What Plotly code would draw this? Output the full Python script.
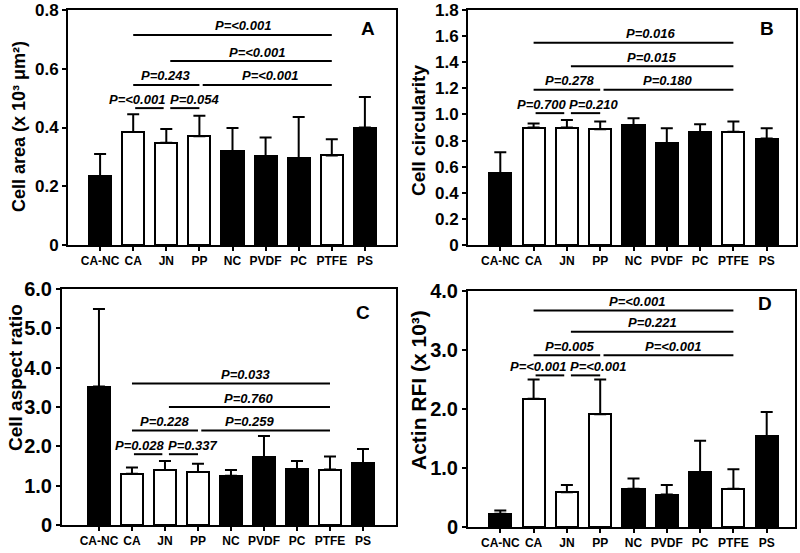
import plotly.graph_objects as go

categories = ["CA-NC", "CA", "JN", "PP", "NC", "PVDF", "PC", "PTFE", "PS"]
open_bar = [False, True, True, True, False, False, False, True, False]

area_mean = [0.235, 0.385, 0.348, 0.370, 0.320, 0.303, 0.295, 0.305, 0.400]
area_sd = [0.075, 0.060, 0.047, 0.070, 0.078, 0.063, 0.141, 0.055, 0.104]

circ_mean = [0.550, 0.900, 0.900, 0.887, 0.920, 0.778, 0.862, 0.867, 0.815]
circ_sd = [0.160, 0.030, 0.058, 0.059, 0.051, 0.117, 0.063, 0.079, 0.080]

aspect_mean = [3.52, 1.30, 1.40, 1.35, 1.25, 1.72, 1.42, 1.41, 1.57]
aspect_sd = [1.97, 0.16, 0.23, 0.21, 0.15, 0.54, 0.21, 0.33, 0.36]

actin_mean = [0.226, 2.175, 0.590, 1.910, 0.650, 0.550, 0.930, 0.650, 1.540]
actin_sd = [0.054, 0.325, 0.120, 0.590, 0.170, 0.160, 0.530, 0.330, 0.410]

# comparisons, same pairs in every panel
pairs = [("CA", "PTFE"), ("JN", "PTFE"), ("CA", "PP"), ("PP", "PTFE"), ("CA", "JN"), ("JN", "PP")]
area_p = ["P=<0.001", "P=<0.001", "P=0.243", "P=<0.001", "P=<0.001", "P=0.054"]
circ_p = ["P=0.016", "P=0.015", "P=0.278", "P=0.180", "P=0.700", "P=0.210"]
aspect_p = ["P=0.033", "P=0.760", "P=0.228", "P=0.259", "P=0.028", "P=0.337"]
actin_p = ["P=<0.001", "P=0.221", "P=0.005", "P=<0.001", "P=<0.001", "P=<0.001"]
area_lvl = [0.715, 0.626, 0.545, 0.545, 0.466, 0.466]
circ_lvl = [1.55, 1.37, 1.19, 1.19, 1.01, 1.01]
aspect_lvl = [3.6, 3.0, 2.4, 2.4, 1.8, 1.8]
actin_lvl = [3.67, 3.31, 2.91, 2.91, 2.57, 2.57]

area_ticks = [0, 0.2, 0.4, 0.6, 0.8]
area_ticktext = ["0", "0.2", "0.4", "0.6", "0.8"]
circ_ticks = [0, 0.2, 0.4, 0.6, 0.8, 1.0, 1.2, 1.4, 1.6, 1.8]
circ_ticktext = ["0", "0.2", "0.4", "0.6", "0.8", "1.0", "1.2", "1.4", "1.6", "1.8"]
aspect_ticks = [0, 1, 2, 3, 4, 5, 6]
aspect_ticktext = ["0", "1.0", "2.0", "3.0", "4.0", "5.0", "6.0"]
actin_ticks = [0, 1, 2, 3, 4]
actin_ticktext = ["0", "1.0", "2.0", "3.0", "4.0"]

FONT = "Liberation Sans, Arial, sans-serif"
W, H = 800, 553

# per panel style: pixel box (left, right, top, bottom), x range, tick font, title
panels = [
    dict(mean=area_mean, sd=area_sd, p=area_p, lvl=area_lvl, ymax=0.8,
         ticks=area_ticks, ticktext=area_ticktext,
         box=(68, 396, 10, 245), xr=[-0.97, 8.94], tick_size=17,
         title="Cell area (x 10\u00b3 \u03bcm\u00b2)", title_size=18,
         title_xy=(19, 127), letter="A", letter_xy=(368, 28),
         dx=[10, 6, 0, 3, -12, 10]),
    dict(mean=circ_mean, sd=circ_sd, p=circ_p, lvl=circ_lvl, ymax=1.8,
         ticks=circ_ticks, ticktext=circ_ticktext,
         box=(468, 796, 10, 245), xr=[-0.97, 8.88], tick_size=17,
         title="Cell circularity", title_size=19,
         title_xy=(418, 131), letter="B", letter_xy=(767, 28),
         dx=[17, 0, 3, 0, -8, 8]),
    dict(mean=aspect_mean, sd=aspect_sd, p=aspect_p, lvl=aspect_lvl, ymax=6.0,
         ticks=aspect_ticks, ticktext=aspect_ticktext,
         box=(62, 396, 289, 525), xr=[-1.12, 9.0], tick_size=20,
         title="Cell aspect ratio", title_size=19,
         title_xy=(15, 378), letter="C", letter_xy=(363, 312),
         dx=[15, 0, 0, -16, -8, 10]),
    dict(mean=actin_mean, sd=actin_sd, p=actin_p, lvl=actin_lvl, ymax=4.0,
         ticks=actin_ticks, ticktext=actin_ticktext,
         box=(468, 795, 291, 527), xr=[-0.97, 8.85], tick_size=20,
         title="Actin RFI (x 10\u00b3)", title_size=21,
         title_xy=(418, 390), letter="D", letter_xy=(765, 303),
         dx=[3, 0, 3, 5, -12, 12]),
]

# small insets so the short lines stop short of the neighbouring bar
inset = {("CA", "PTFE"): (0, 0), ("JN", "PTFE"): (0.12, 0), ("CA", "PP"): (0, 0),
         ("PP", "PTFE"): (0.1, 0), ("CA", "JN"): (0.06, -0.08), ("JN", "PP"): (0.12, 0)}

pos = list(range(len(categories)))
fig = go.Figure()
layout = dict(width=W, height=H, margin=dict(l=0, r=0, t=0, b=0, autoexpand=False),
              paper_bgcolor="white", plot_bgcolor="white", showlegend=False,
              font=dict(family=FONT, color="black"), bargap=0)
shapes, annotations = [], []

for i, pn in enumerate(panels, start=1):
    xa = "x" if i == 1 else f"x{i}"
    ya = "y" if i == 1 else f"y{i}"
    l, r, t, b = pn["box"]
    fig.add_trace(go.Bar(
        x=pos, y=pn["mean"], width=0.665, xaxis=xa, yaxis=ya,
        marker=dict(color=["white" if o else "black" for o in open_bar],
                    line=dict(color="black", width=2)),
        error_y=dict(type="data", array=pn["sd"], arrayminus=[0] * len(pos),
                     symmetric=False, color="black", thickness=2, width=6),
    ))
    # automargin off: the panel boxes are placed by hand
    axis_common = dict(showline=True, linecolor="black", linewidth=2, mirror=True,
                       showgrid=False, zeroline=False, ticks="outside", automargin=False,
                       ticklen=4, tickwidth=2, tickcolor="black")
    layout["xaxis" if i == 1 else f"xaxis{i}"] = dict(
        axis_common, domain=[l / W, r / W], range=pn["xr"], anchor=ya,
        tickvals=pos, ticktext=categories,
        tickfont=dict(size=12, family=FONT, weight="bold"))
    layout["yaxis" if i == 1 else f"yaxis{i}"] = dict(
        axis_common, domain=[1 - b / H, 1 - t / H], range=[0, pn["ymax"]], anchor=xa,
        tickvals=pn["ticks"], ticktext=pn["ticktext"],
        tickfont=dict(size=pn["tick_size"], family=FONT, weight="bold"))

    for (a, c), txt, lvl, dx in zip(pairs, pn["p"], pn["lvl"], pn["dx"]):
        x0 = categories.index(a) + inset[(a, c)][0]
        x1 = categories.index(c) + inset[(a, c)][1]
        shapes.append(dict(type="line", xref=xa, yref=ya, x0=x0, x1=x1, y0=lvl, y1=lvl,
                           line=dict(color="black", width=2)))
        annotations.append(dict(xref=xa, yref=ya, x=(x0 + x1) / 2, y=lvl,
                                text=f"<b><i>{txt}</i></b>", showarrow=False,
                                xanchor="center", yanchor="middle", yshift=9, xshift=dx,
                                font=dict(size=13, family=FONT)))

    tx, ty = pn["title_xy"]
    annotations.append(dict(xref="paper", yref="paper", x=tx / W, y=1 - ty / H,
                            text=f"<b>{pn['title']}</b>", textangle=-90, showarrow=False,
                            xanchor="center", yanchor="middle",
                            font=dict(size=pn["title_size"], family=FONT)))
    lx, ly = pn["letter_xy"]
    annotations.append(dict(xref="paper", yref="paper", x=lx / W, y=1 - ly / H,
                            text=f"<b>{pn['letter']}</b>", showarrow=False,
                            xanchor="center", yanchor="middle",
                            font=dict(size=19, family=FONT)))

layout["shapes"] = shapes
layout["annotations"] = annotations
fig.update_layout(**layout)
# drop the default 8px page margin so the figure sits at the window origin
fig.write_html("out.html", config={"displayModeBar": False},
               post_script="document.body.style.margin='0px';")
